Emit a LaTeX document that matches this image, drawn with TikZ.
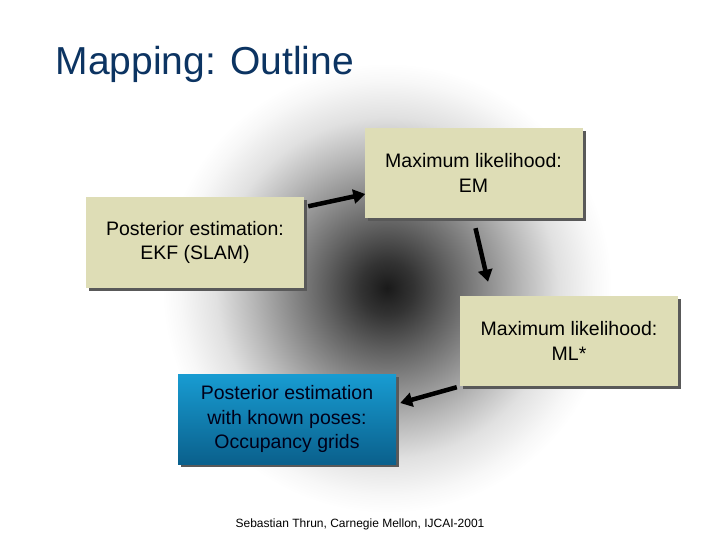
\documentclass[tikz,border=0pt]{standalone}
\usepackage{fontspec}
\setmainfont{Liberation Sans}
\usepackage{xcolor}
\usetikzlibrary{arrows.meta,positioning,shadows}
\definecolor{boxbeige}{RGB}{222,221,182}
\definecolor{titleblue}{RGB}{12,52,98}
\definecolor{gridtop}{RGB}{24,156,210}
\definecolor{gridbot}{RGB}{10,96,140}
\pgfdeclareradialshading{halo}{\pgfpoint{0bp}{0bp}}{%
	color(0bp)=(black!90); color(3bp)=(black!80); color(7bp)=(black!62); color(11bp)=(black!45);
	color(15bp)=(black!28); color(19bp)=(black!12); color(23bp)=(black!3); color(25bp)=(white); color(50bp)=(white)}
\tikzset{%
	block/.style    = {rectangle, fill=boxbeige, minimum width=218pt, minimum height=90pt,
		align=center, font=\fontsize{19.5}{24.5}\selectfont,
		drop shadow={shadow xshift=3pt, shadow yshift=-3pt, fill=black!65, opacity=1}},
	gridblock/.style = {block, fill=none, top color=gridtop, bottom color=gridbot, text=black!90!blue},
	arrow/.style    = {line width=4.5pt, -{Triangle[length=12pt,width=14pt]}},
	title/.style    = {anchor=west, text=titleblue, font=\fontsize{39}{44}\selectfont},
	footer/.style   = {font=\fontsize{12}{14}\selectfont},
}
\begin{document}
\begin{tikzpicture}[x=1pt,y=-1pt]
	\useasboundingbox[fill=white] (0,0) rectangle (720,540);
	\shade[shading=halo] (387,288) circle (225);
	
	\node[title] (head) at (52,64) {Mapping: Outline};
	\node[block] (ekf) at (195,242.5) {Posterior estimation:\\EKF (SLAM)};
	\node[block] (em) at (473.5,173) {Maximum likelihood:\\EM};
	\node[block] (ml) at (569,341) {Maximum likelihood:\\ML*};
	\node[gridblock] (occ) at (287,419) {Posterior estimation\\with known poses:\\Occupancy grids};
	\node[footer] (foot) at (360,524) {Sebastian Thrun, Carnegie Mellon, IJCAI-2001};
	
	\draw[arrow] ([xshift=4pt,yshift=-9pt]ekf.north east) -- ([xshift=1pt,yshift=-21pt]em.west);
	\draw[arrow] ([xshift=2pt,yshift=-10pt]em.south) -- ([xshift=-81pt,yshift=14pt]ml.north);
	\draw[arrow] ([xshift=-3pt,yshift=-1pt]ml.south west) -- ([xshift=4pt,yshift=16pt]occ.east);
\end{tikzpicture}
\end{document}
